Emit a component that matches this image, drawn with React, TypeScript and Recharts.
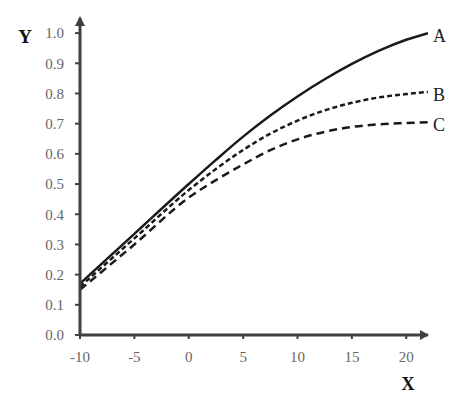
import React from 'react';
import { LineChart, Line, XAxis, YAxis, ReferenceDot } from 'recharts';

const xValues = [-10, -5, 0, 2.5, 5, 7.5, 10, 12.5, 15, 17.5, 20, 22];
const seriesA = [0.17, 0.335, 0.5, 0.58, 0.657, 0.727, 0.79, 0.847, 0.898, 0.942, 0.978, 1.0];
const seriesB = [0.16, 0.32, 0.48, 0.55, 0.613, 0.667, 0.71, 0.744, 0.769, 0.787, 0.798, 0.805];
const seriesC = [0.15, 0.3, 0.455, 0.513, 0.565, 0.612, 0.648, 0.673, 0.689, 0.698, 0.702, 0.705];
const xTicks = [-10, -5, 0, 5, 10, 15, 20];
const yTicks = [0, 0.1, 0.2, 0.3, 0.4, 0.5, 0.6, 0.7, 0.8, 0.9, 1.0];
const seriesNames = ['A', 'B', 'C'];

const data = xValues.map((x, i) => ({ x, A: seriesA[i], B: seriesB[i], C: seriesC[i] }));
const lastX = xValues[xValues.length - 1];
const lastVals = [seriesA[seriesA.length - 1], seriesB[seriesB.length - 1], seriesC[seriesC.length - 1]];

const FONT = '"Liberation Serif", "DejaVu Serif", serif';
const AXIS = '#404040';
const TICKTXT = '#666';

const XLabel = (props: any) => {
  const vb = props.viewBox || {};
  return (
    <text x={vb.x + vb.width - 20} y={390} textAnchor="middle" fontFamily={FONT} fontWeight="bold" fontSize={18} fill="#111">
      X
    </text>
  );
};

const YLabel = () => (
  <text x={25} y={43} textAnchor="middle" fontFamily={FONT} fontWeight="bold" fontSize={19} fill="#111">
    Y
  </text>
);

const makeSeriesLabel = (name: string) => (props: any) => (
  <text x={props.cx + 5} y={props.cy + 9} fontFamily={FONT} fontSize={18} fill="#222">
    {name}
  </text>
);

const ArrowRight = (props: any) => (
  <polygon points={`${props.cx + 1},${props.cy} ${props.cx - 8},${props.cy - 5} ${props.cx - 8},${props.cy + 5}`} fill={AXIS} />
);
const ArrowUp = (props: any) => (
  <polygon points={`${props.cx},${props.cy - 2} ${props.cx - 5},${props.cy + 8} ${props.cx + 5},${props.cy + 8}`} fill={AXIS} />
);

export default function App() {
  return (
    <div style={{ position: 'absolute', left: 0, top: 0, background: '#fff' }}>
      <LineChart width={465} height={394} data={data} margin={{ top: 18, right: 37, bottom: 29, left: 30 }}>
        <XAxis
          dataKey="x"
          type="number"
          domain={[-10, 22]}
          ticks={xTicks}
          allowDataOverflow
          height={30}
          axisLine={{ stroke: AXIS, strokeWidth: 3 }}
          tickLine={{ stroke: AXIS, strokeWidth: 2 }}
          tickSize={4}
          tickMargin={12}
          tick={{ fill: TICKTXT, fontFamily: FONT, fontSize: 15 }}
          label={<XLabel />}
        />
        <YAxis
          type="number"
          domain={[0, 1.05]}
          ticks={yTicks}
          width={50}
          allowDataOverflow
          axisLine={{ stroke: AXIS, strokeWidth: 3 }}
          tickLine={{ stroke: AXIS, strokeWidth: 2 }}
          tickSize={5}
          tickMargin={11}
          tickFormatter={(v: number) => v.toFixed(1)}
          tick={{ fill: TICKTXT, fontFamily: FONT, fontSize: 15 }}
          label={<YLabel />}
        />
        <Line type="monotone" dataKey="A" stroke="#1a1a1a" strokeWidth={2.5} dot={false} isAnimationActive={false} />
        <Line type="monotone" dataKey="B" stroke="#1a1a1a" strokeWidth={2.5} strokeDasharray="5 3" dot={false} isAnimationActive={false} />
        <Line type="monotone" dataKey="C" stroke="#1a1a1a" strokeWidth={2.5} strokeDasharray="8 5" dot={false} isAnimationActive={false} />
        {seriesNames.map((n, i) => (
          <ReferenceDot key={n} x={lastX} y={lastVals[i]} r={0} ifOverflow="visible" shape={makeSeriesLabel(n)} />
        ))}
        <ReferenceDot x={22} y={0} r={0} ifOverflow="visible" shape={ArrowRight} />
        <ReferenceDot x={-10} y={1.05} r={0} ifOverflow="visible" shape={ArrowUp} />
      </LineChart>
    </div>
  );
}
